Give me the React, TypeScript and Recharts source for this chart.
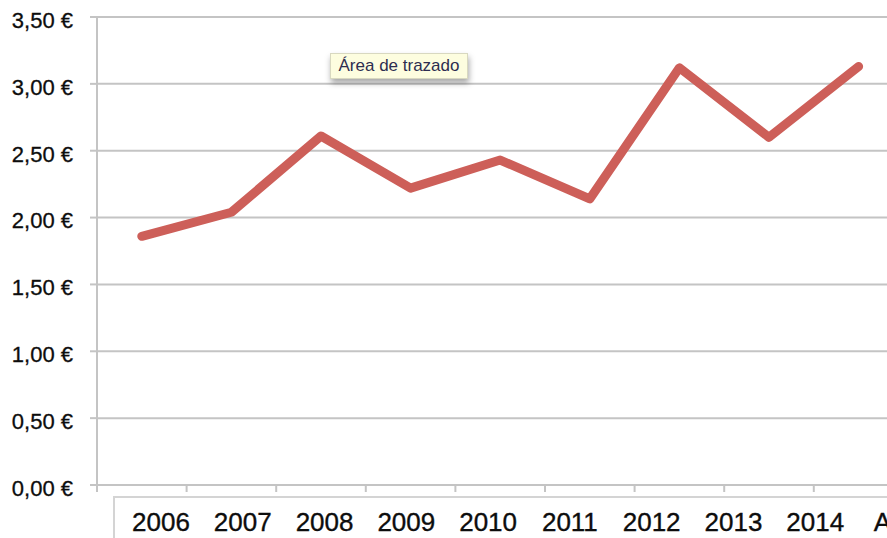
import React from "react";
import { LineChart, Line, XAxis, YAxis, CartesianGrid } from "recharts";

const years = ["2006", "2007", "2008", "2009", "2010", "2011", "2012", "2013", "2014"];
const prices = [1.86, 2.04, 2.61, 2.22, 2.43, 2.14, 3.12, 2.6, 3.13];
const axisLabels = [...years, "Año"];
const yTicks = [0, 0.5, 1, 1.5, 2, 2.5, 3, 3.5];
const bandTicks = [0, 1, 2, 3, 4, 5, 6, 7, 8, 9, 10];

const data = axisLabels.map((label, i) => ({
  label,
  pos: i + 0.5,
  price: i < prices.length ? prices[i] : null,
}));

const GRID = "#c4c4c4";
const FONT = "'Liberation Sans', Arial, sans-serif";
const TEXT = "#0d0d0d";

export default function App() {
  return (
    <div
      style={{
        position: "absolute",
        left: 0,
        top: 0,
        width: 887,
        height: 538,
        overflow: "hidden",
        background: "#ffffff",
        fontFamily: FONT,
      }}
    >
      <LineChart
        width={1000}
        height={538}
        data={data}
        margin={{ top: 17, right: 7, bottom: 0, left: 0 }}
      >
        <CartesianGrid xAxisId="a_main" vertical={false} stroke={GRID} strokeWidth={2} />
        <XAxis
          xAxisId="a_main"
          type="number"
          dataKey="pos"
          domain={[0, 10]}
          ticks={bandTicks}
          tickFormatter={() => ""}
          height={12}
          tickSize={7}
          axisLine={{ stroke: GRID, strokeWidth: 2 }}
          tickLine={{ stroke: GRID, strokeWidth: 2 }}
        />
        <XAxis
          xAxisId="b_lab"
          type="category"
          dataKey="label"
          height={41}
          padding={{ left: 64, right: 96 }}
          axisLine={false}
          tickLine={false}
          tickSize={0}
          tickMargin={16}
          interval={0}
          tick={{ fill: TEXT, stroke: TEXT, strokeWidth: 0.35, fontSize: 26, fontFamily: FONT }}
        />
        <YAxis
          type="number"
          domain={[0, 3.5]}
          ticks={yTicks}
          width={97}
          tickSize={7}
          tickMargin={17}
          interval={0}
          axisLine={{ stroke: GRID, strokeWidth: 2 }}
          tickLine={{ stroke: GRID, strokeWidth: 2 }}
          tick={{ fill: TEXT, stroke: TEXT, strokeWidth: 0.3, fontSize: 22, fontFamily: FONT, dy: 3 }}
          tickFormatter={(v: number) => v.toFixed(2).replace(".", ",") + " €"}
        />
        <Line
          xAxisId="a_main"
          type="linear"
          dataKey="price"
          stroke="#cd5f59"
          strokeWidth={9}
          strokeLinecap="round"
          strokeLinejoin="round"
          dot={false}
          activeDot={false}
          connectNulls={false}
          isAnimationActive={false}
        />
      </LineChart>
      <div
        style={{
          position: "absolute",
          left: 113,
          top: 496,
          width: 800,
          height: 60,
          borderTop: "2px solid #d4d4d4",
          borderLeft: "2px solid #d4d4d4",
          pointerEvents: "none",
        }}
      />
      <div
        style={{
          position: "absolute",
          left: 330,
          top: 53,
          width: 138,
          height: 26,
          boxSizing: "border-box",
          background: "#fdfddf",
          border: "1px solid #d8d8c0",
          boxShadow: "1px 4px 6px rgba(0,0,0,0.35)",
          color: "#2d2d50",
          fontSize: 17,
          lineHeight: "24px",
          textAlign: "center",
          fontFamily: FONT,
        }}
      >
        Área de trazado
      </div>
    </div>
  );
}
